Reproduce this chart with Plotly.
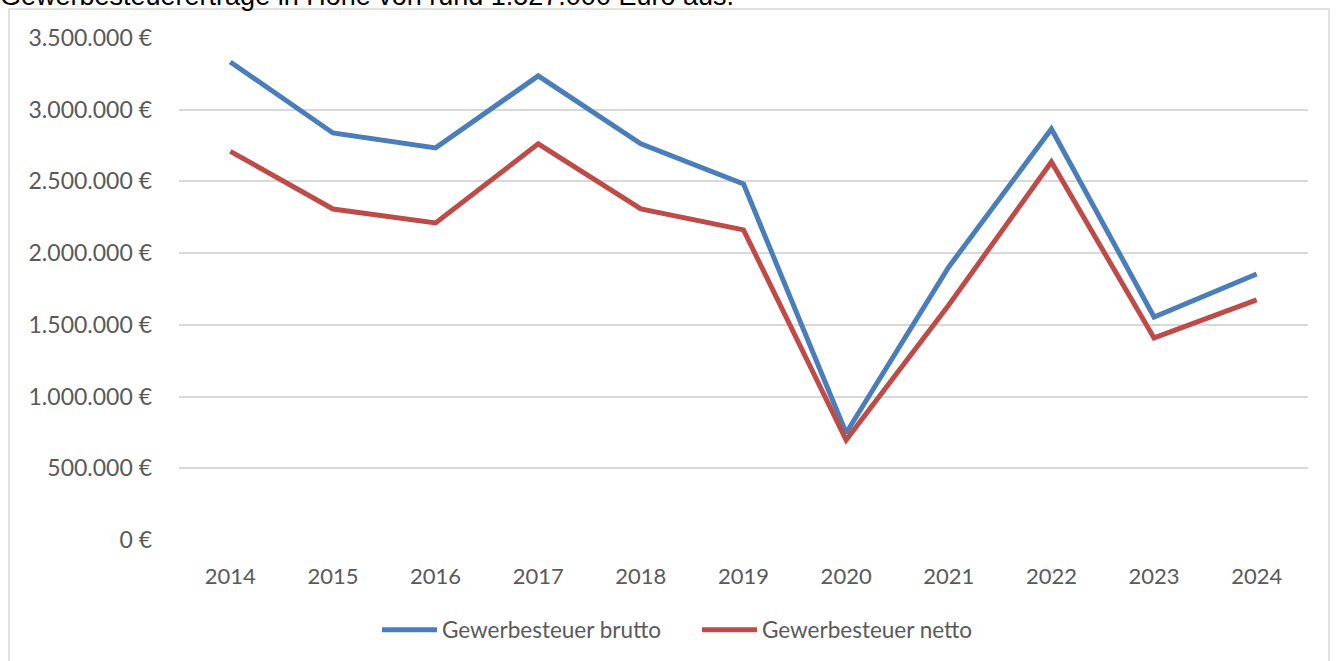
import plotly.graph_objects as go

years = ["2014", "2015", "2016", "2017", "2018", "2019", "2020", "2021", "2022", "2023", "2024"]
brutto = [3333000, 2838000, 2734000, 3236000, 2762000, 2483000, 746000, 1904000, 2866000, 1555000, 1855000]
netto = [2710000, 2308000, 2211000, 2762000, 2308000, 2162000, 697000, 1639000, 2636000, 1409000, 1674000]
y_ticks = [0, 500000, 1000000, 1500000, 2000000, 2500000, 3000000, 3500000]
y_tick_labels = ["0 €", "500.000 €", "1.000.000 €", "1.500.000 €", "2.000.000 €",
                 "2.500.000 €", "3.000.000 €", "3.500.000 €"]
intro_text = "Gewerbesteuererträge in Höhe von rund 1.527.000 Euro aus."

W, H = 1338, 661
L, R, T, B = 179, 30, 38, 121
pw, ph = W - L - R, H - T - B

def px_x(p):
    return (p - L) / pw

def px_y(p):
    return (H - B - p) / ph

FONT = "Lato, 'Open Sans', sans-serif"
GRAY = "#595959"

fig = go.Figure()
fig.add_trace(go.Scatter(x=years, y=brutto, mode="lines", name="Gewerbesteuer brutto",
                         line=dict(color="#4A7EBB", width=5)))
fig.add_trace(go.Scatter(x=years, y=netto, mode="lines", name="Gewerbesteuer netto",
                         line=dict(color="#BE4B48", width=5)))

fig.update_layout(
    width=W, height=H,
    margin=dict(l=L, r=R, t=T, b=B, pad=0, autoexpand=False),
    paper_bgcolor="white", plot_bgcolor="white",
    font=dict(family=FONT, size=22, color=GRAY),
    xaxis=dict(type="category", range=[-0.5, 10.5], showgrid=False, zeroline=False,
               showline=False, ticks="", tickfont=dict(size=22, color=GRAY), ticklabelstandoff=21),
    yaxis=dict(range=[0, 3500000], tickvals=y_ticks, ticktext=y_tick_labels,
               showgrid=True, gridcolor="#D9D9D9", gridwidth=1.5, zeroline=False,
               showline=False, ticks="", ticklabelstandoff=26,
               tickfont=dict(size=23, color=GRAY)),
    legend=dict(orientation="h", x=px_x(377), xanchor="left", y=px_y(630), yanchor="middle",
                font=dict(size=22.5, color=GRAY), itemwidth=55, entrywidth=250,
                tracegroupgap=0, bgcolor="rgba(0,0,0,0)"),
    showlegend=True,
    shapes=[dict(type="rect", xref="paper", yref="paper",
                 x0=px_x(9), x1=px_x(1329), y0=px_y(670), y1=px_y(9),
                 line=dict(color="#D9D9D9", width=1.5), fillcolor="rgba(0,0,0,0)", layer="below")],
    annotations=[dict(text=intro_text, xref="paper", yref="paper", x=px_x(-2), y=px_y(13),
                      xanchor="left", yanchor="bottom", showarrow=False,
                      font=dict(family="Liberation Sans, Arial, sans-serif", size=27, color="black"))],
)

fig.write_html("out.html", config={"displayModeBar": False},
               post_script="document.body.style.margin='0';document.body.style.overflow='hidden';")
